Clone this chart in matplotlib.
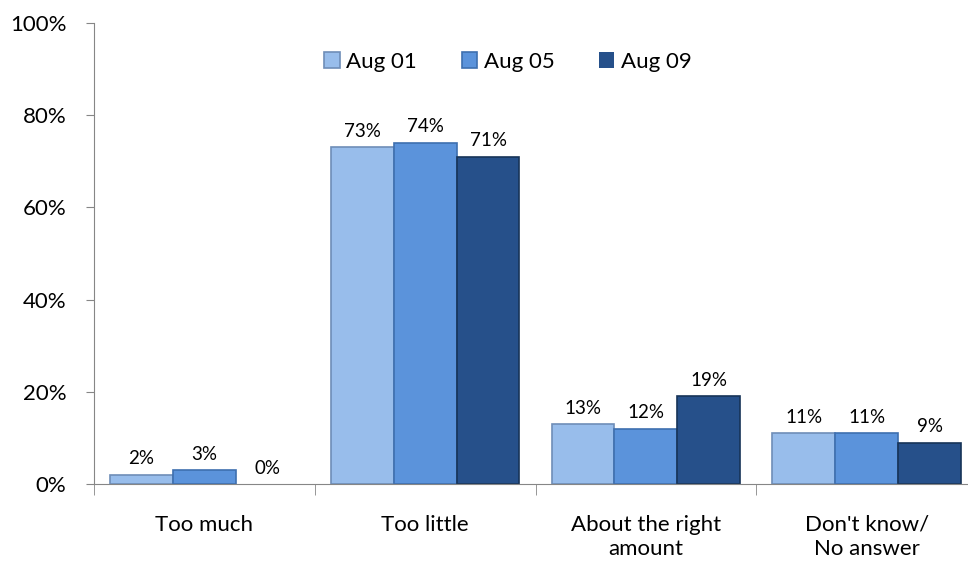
import numpy as np
import matplotlib

matplotlib.use("Agg")
import matplotlib.pyplot as plt  # noqa: E402

categories = ["Too much", "Too little", "About the right\namount", "Don't know/\nNo answer"]
series_names = ["Aug 01", "Aug 05", "Aug 09"]
aug01 = [2, 73, 13, 11]
aug05 = [3, 74, 12, 11]
aug09 = [0, 71, 19, 9]
y_ticks = [0, 20, 40, 60, 80, 100]

colors = ["#98BDEB", "#5B93DB", "#26508A"]
edges = ["#6E8DB8", "#3E6FAF", "#173458"]

plt.rcParams["font.family"] = ["Lato", "DejaVu Sans"]

fig = plt.figure(figsize=(9.68, 5.67), dpi=100)
# axis runs slightly past the right edge, like the original
ax = fig.add_axes([94 / 968, (567 - 484) / 567, 883 / 968, 461 / 567])

x = np.arange(len(categories))
width = 0.285
for i, (vals, name) in enumerate(zip([aug01, aug05, aug09], series_names)):
    pos = x + (i - 1) * width
    lw = [1.2 if v > 0 else 0 for v in vals]
    bars = ax.bar(pos, vals, width, color=colors[i], edgecolor=edges[i],
                  linewidth=lw, label=name, zorder=2)
    for b, v in zip(bars, vals):
        ax.text(b.get_x() + b.get_width() / 2, v + 1.6, f"{v}%",
                ha="center", va="bottom", fontsize=13.5)

ax.set_xlim(-0.5, len(categories) - 0.5)
ax.set_ylim(0, 100)
ax.set_yticks(y_ticks)
ax.set_yticklabels([f"{t}%" for t in y_ticks], fontsize=16)
ax.set_xticks(np.arange(len(categories) + 1) - 0.5, minor=True)
ax.set_xticks(x)
ax.set_xticklabels(categories, fontsize=16, linespacing=1.25)
ax.tick_params(axis="x", which="major", length=0, pad=22)
ax.tick_params(axis="x", which="minor", length=8, color="#868686")
ax.tick_params(axis="y", length=6, color="#868686", pad=14)

for side in ["top", "right"]:
    ax.spines[side].set_visible(False)
for side in ["left", "bottom"]:
    ax.spines[side].set_color("#868686")

leg = fig.legend(loc="center", bbox_to_anchor=(508 / 968, 1 - 62 / 567), ncol=3,
                 frameon=False, fontsize=16, handlelength=0.7, handleheight=0.7,
                 handletextpad=0.3, columnspacing=2.0)

fig.savefig("out.png", dpi=100)
plt.close(fig)
